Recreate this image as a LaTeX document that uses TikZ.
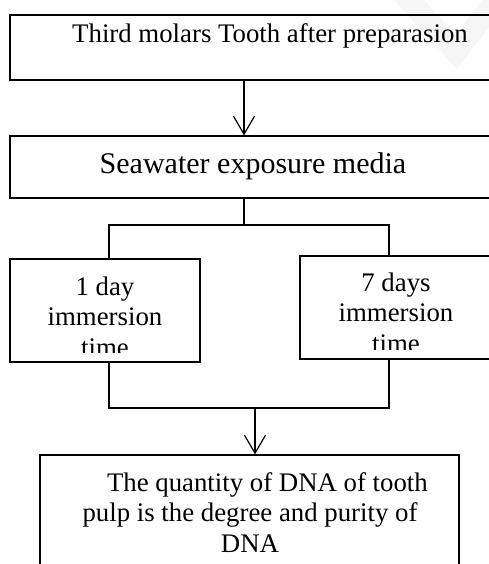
\documentclass[tikz,border=0pt]{standalone}
\usepackage{fontspec}
\setmainfont{Liberation Serif}
\usetikzlibrary{arrows.meta}
\tikzset{
    box/.style={draw, rectangle, line width=1.2pt, inner sep=0pt},
    boxtext/.style={anchor=base, align=center, inner sep=0pt, font=\fontsize{26.8}{30.5}\selectfont},
    arr/.style={-{Straight Barb[length=18pt,width=21pt,line width=1.2pt]}, line width=1.2pt}
}
\begin{document}
\begin{tikzpicture}[x=1pt,y=-1pt]
\useasboundingbox (0,0) rectangle (489,564);
\clip (0,0) rectangle (489,564);
% faint mark behind
\draw[line width=22pt, gray!7] (400,-10) -- (456,52) -- (500,-5);
% boxes
\node[box, minimum width=520pt, minimum height=65pt] (tooth) at (270,47.5) {};
\node[box, minimum width=486pt, minimum height=62pt] (media) at (253,167) {};
\node[box, minimum width=190pt, minimum height=103pt] (day1) at (105,310.5) {};
\node[box, minimum width=192pt, minimum height=103pt] (day7) at (396,307.5) {};
\node[box, minimum width=419pt, minimum height=150pt] (dna) at (249.5,530) {};
% texts (base = last line)
\node[boxtext] (toothtxt) at (270,43) {Third molars Tooth after preparasion};
\node[boxtext, font=\fontsize{30}{34}\selectfont] (mediatxt) at (253,173) {Seawater exposure media};
\begin{scope}
    \clip (10,259) rectangle (200,352);
    \node[boxtext] (day1txt) at (105,356) {1 day\\immersion\\time};
\end{scope}
\begin{scope}
    \clip (300,256) rectangle (492,349);
    \node[boxtext] (day7txt) at (396,352) {7 days\\immersion\\time};
\end{scope}
\node[boxtext] (dnatxt) at (250,552) {\hspace*{1.3em}The quantity of DNA of tooth\\pulp is the degree and purity of\\DNA};
% connectors
\coordinate (spine) at (244,0);
\coordinate (lx) at (109,0);
\coordinate (rx) at (389,0);
\coordinate (fork) at (244,225);
\coordinate (join) at (255,408);
\draw[arr] (tooth.south -| spine) -- (media.north -| spine);
\draw[line width=1.2pt] (media.south -| spine) -- (fork);
\draw[line width=1.2pt] (day1.north -| lx) |- (fork) -| (day7.north -| rx);
\draw[line width=1.2pt] (day1.south -| lx) |- (join) -| (day7.south -| rx);
\draw[arr] (join) -- (dna.north -| join);
\end{tikzpicture}
\end{document}
